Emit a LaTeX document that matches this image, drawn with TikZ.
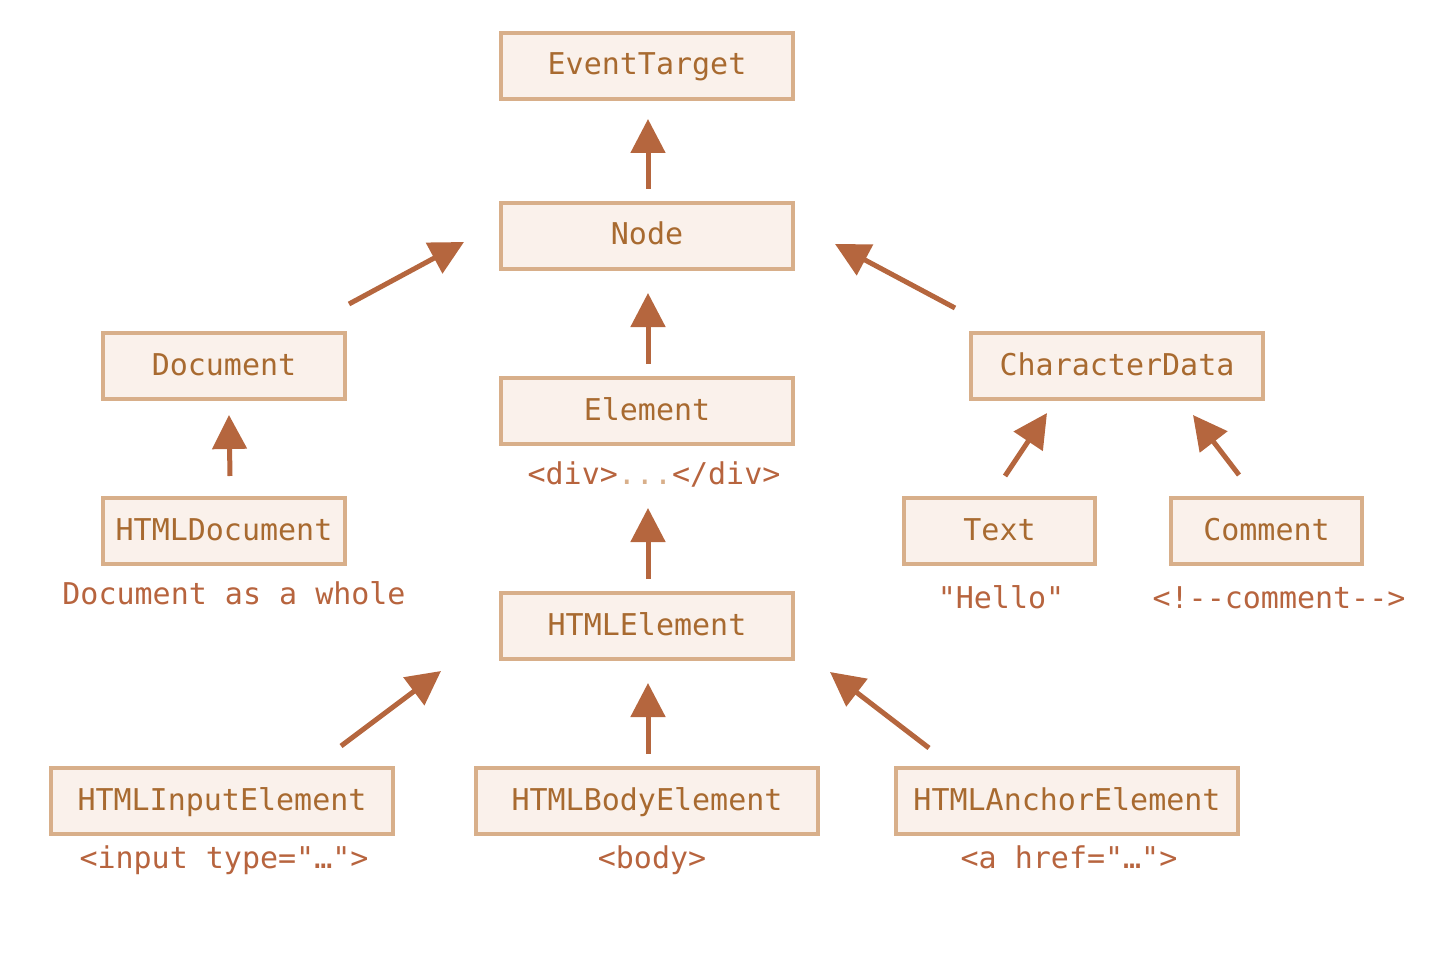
\documentclass[tikz,border=0pt]{standalone}
\usepackage{fontspec}
\setmonofont{DejaVu Sans Mono}
\usetikzlibrary{arrows.meta,calc}

\definecolor{boxfill}{RGB}{250,241,235}
\definecolor{boxline}{RGB}{216,175,138}
\definecolor{boxtext}{RGB}{168,106,48}
\definecolor{notetext}{RGB}{183,100,62}
\definecolor{arrowcol}{RGB}{181,102,62}
\definecolor{dotcol}{RGB}{216,175,138}

\tikzset{
  cls/.style={draw=boxline, fill=boxfill, line width=4pt, rectangle,
    minimum height=66pt, inner sep=0pt, text=boxtext,
    font=\ttfamily\fontsize{30}{33}\selectfont,
    text height=22pt, text depth=4pt},
  note/.style={anchor=base, inner sep=0pt, text=notetext,
    font=\ttfamily\fontsize{30}{33}\selectfont},
  inherit/.style={draw=arrowcol, line width=5pt,
    -{Triangle[length=34pt,width=34pt]}}
}

\begin{document}
\begin{tikzpicture}[x=1pt,y=-1pt]
\useasboundingbox (0,0) rectangle (1448,968);

% class boxes
\node[cls, minimum width=292pt] (EventTarget) at (647,66) {EventTarget};
\node[cls, minimum width=292pt] (Node) at (647,236) {Node};
\node[cls, minimum width=292pt] (Element) at (647,411) {Element};
\node[cls, minimum width=292pt] (HTMLElement) at (647,626) {HTMLElement};
\node[cls, minimum width=242pt] (Document) at (224,366) {Document};
\node[cls, minimum width=242pt] (HTMLDocument) at (224,531) {HTMLDocument};
\node[cls, minimum width=292pt] (CharacterData) at (1117,366) {CharacterData};
\node[cls, minimum width=191pt] (Text) at (999.5,531) {Text};
\node[cls, minimum width=191pt] (Comment) at (1266.5,531) {Comment};
\node[cls, minimum width=342pt] (HTMLInputElement) at (222,801) {HTMLInputElement};
\node[cls, minimum width=342pt] (HTMLBodyElement) at (647,801) {HTMLBodyElement};
\node[cls, minimum width=342pt] (HTMLAnchorElement) at (1067,801) {HTMLAnchorElement};

% example notes under the boxes
\node[note] (divNote) at (654,484) {<div>\textcolor{dotcol}{...}</div>};
\node[note] (docNote) at (234,604) {Document as a whole};
\node[note] (textNote) at (1001,608) {"Hello"};
\node[note] (commentNote) at (1279,608) {<!--comment-->};
\node[note] (inputNote) at (224,868) {<input type="…">};
\node[note] (bodyNote) at (652,868) {<body>};
\node[note] (anchorNote) at (1069,868) {<a href="…">};

% inheritance arrows
\draw[inherit] ($(Node.north)+(1,-12)$) -- ($(EventTarget.south)+(1,18)$);
\draw[inherit] ($(Document.north east)+(2,-27)$) -- ($(Node.west)+(-35,6)$);
\draw[inherit] ($(Element.north)+(1,-12)$) -- ($(Node.south)+(1,22)$);
\draw[inherit] ($(CharacterData.north west)+(-14,-23)$) -- ($(Node.east)+(40,8)$);
\draw[inherit] ($(HTMLDocument.north)+(6,-20)$) -- ($(Document.south)+(5,14)$);
\draw[inherit] ($(HTMLElement.north)+(1,-12)$) -- ($(Element.south)+(1,62)$);
\draw[inherit] ($(Text.north)+(5.5,-20)$) -- ($(CharacterData.south)+(-70,12)$);
\draw[inherit] ($(Comment.north)+(-27.5,-21)$) -- ($(CharacterData.south)+(76,14)$);
\draw[inherit] ($(HTMLInputElement.north)+(119,-20)$) -- ($(HTMLElement.south west)+(-58,10)$);
\draw[inherit] ($(HTMLBodyElement.north)+(1,-12)$) -- ($(HTMLElement.south)+(1,22)$);
\draw[inherit] ($(HTMLAnchorElement.north)+(-138,-18)$) -- ($(HTMLElement.south east)+(35,11)$);
\end{tikzpicture}
\end{document}
